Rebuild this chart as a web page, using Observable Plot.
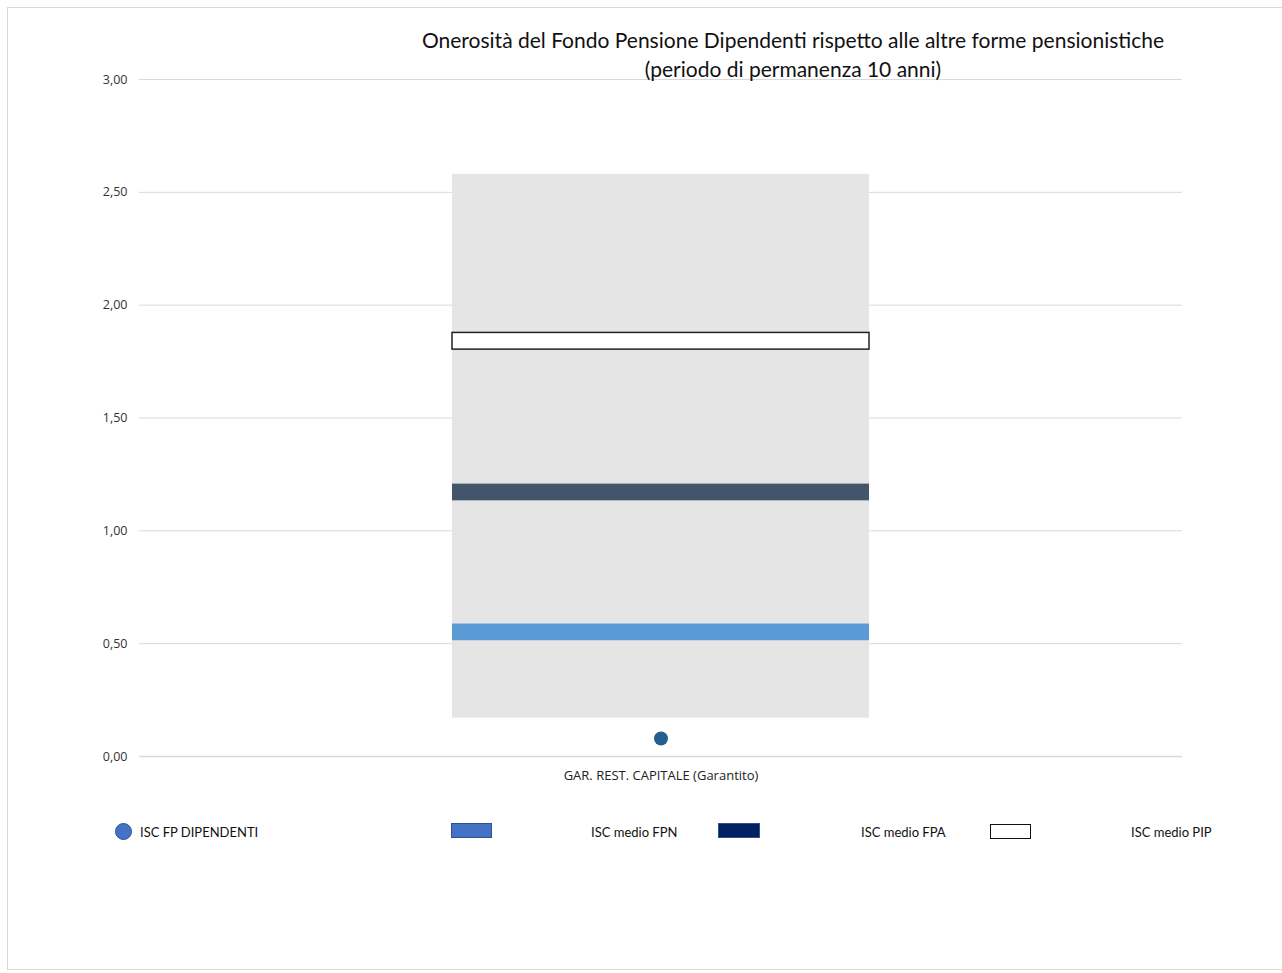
<!DOCTYPE html>
<html>
<head>
<meta charset="utf-8">
<script src="https://cdn.jsdelivr.net/npm/d3@7"></script>
<script src="https://cdn.jsdelivr.net/npm/@observablehq/plot@0.6"></script>
<style>
  html, body { margin: 0; padding: 0; background: #fff; }
  #page { position: relative; width: 1282px; height: 973px; overflow: hidden; }
  #frame { position: absolute; left: 7px; top: 7px; width: 1290px; height: 963px; border: 1px solid #d9d9d9; box-sizing: border-box; }
  #chart { position: absolute; left: 0; top: 0; }
  #title { position: absolute; left: 393px; width: 800px; top: 25px; text-align: center;
           font-family: Lato, "Open Sans", sans-serif; font-size: 21px; line-height: 29px; color: #111; }
  .leg { position: absolute; font-family: Lato, "Open Sans", sans-serif; font-size: 13px; color: #111; top: 824px; line-height: 17px; }
  .sw { position: absolute; box-sizing: border-box; }
</style>
</head>
<body>
<div id="page">
  <div id="frame"></div>
  <div id="chart"></div>
  <div id="title">Onerosità del Fondo Pensione Dipendenti rispetto alle altre forme pensionistiche<br>(periodo di permanenza 10 anni)</div>
  <div id="legend"></div>
</div>
<script>
// ---- data ----
const categories = ["GAR. REST. CAPITALE (Garantito)"];
const rangeMin = [0.17];
const rangeMax = [2.58];
const iscFPDipendenti = [0.08];
const iscMedioFPN = [0.55];
const iscMedioFPA = [1.17];
const iscMedioPIP = [1.84];
const yTicks = [0, 0.5, 1, 1.5, 2, 2.5, 3];
const legendLabels = ["ISC FP DIPENDENTI", "ISC medio FPN", "ISC medio FPA", "ISC medio PIP"];

const half = 0.037; // half thickness of average markers (data units)
const rows = categories.map((c, i) => ({
  cat: c, min: rangeMin[i], max: rangeMax[i], dip: iscFPDipendenti[i],
  fpn: iscMedioFPN[i], fpa: iscMedioFPA[i], pip: iscMedioPIP[i]
}));
const fmt = d => d3.format(".2f")(d).replace(".", ",");

const chart = Plot.plot({
  width: 1282,
  height: 800,
  marginLeft: 139,
  marginRight: 100,
  marginTop: 79,
  marginBottom: 44,
  style: { fontFamily: "Open Sans, sans-serif", fontSize: "12px", color: "#333" },
  x: { type: "band", domain: categories, paddingInner: 0.4286, paddingOuter: 0.4286, label: null },
  y: { domain: [0, 3], ticks: yTicks, label: null },
  marks: [
    Plot.gridY(yTicks, { stroke: "#d9d9d9", strokeOpacity: 1, strokeWidth: 1 }),
    Plot.axisY(yTicks, { tickFormat: fmt, tickSize: 0, tickPadding: 12, fontSize: 12.5, fill: "#333" }),
    Plot.ruleY([0], { stroke: "#d9d9d9", strokeWidth: 1.5 }),
    Plot.axisX({ tickSize: 0, tickPadding: 14, fontSize: 13, fill: "#222" }),
    Plot.barY(rows, { x: "cat", y1: "min", y2: "max", fill: "#e5e5e5" }),
    Plot.barY(rows, { x: "cat", y1: d => d.fpn - half, y2: d => d.fpn + half, fill: "#5b9bd5" }),
    Plot.barY(rows, { x: "cat", y1: d => d.fpa - half, y2: d => d.fpa + half, fill: "#44546a" }),
    Plot.barY(rows, { x: "cat", y1: d => d.pip - half, y2: d => d.pip + half, fill: "#fff", stroke: "#222", strokeWidth: 1.5 }),
    Plot.dot(rows, { x: "cat", y: "dip", r: 7, fill: "#255e91" })
  ]
});
document.getElementById("chart").appendChild(chart);

// ---- legend ----
const legend = document.getElementById("legend");
const items = [
  { sw: { left: 115, top: 823, w: 17, h: 17, bg: "#4472c4", border: "1px solid #2f528f", radius: "50%" }, tx: 140 },
  { sw: { left: 451, top: 823, w: 41, h: 15, bg: "#4472c4", border: "1px solid #2f528f" }, tx: 591 },
  { sw: { left: 718, top: 823, w: 42, h: 15, bg: "#002060", border: "1px solid #2f528f" }, tx: 861 },
  { sw: { left: 990, top: 824, w: 41, h: 15, bg: "#fff", border: "1.5px solid #111" }, tx: 1131 }
];
items.forEach((it, i) => {
  const s = document.createElement("div");
  s.className = "sw";
  Object.assign(s.style, { left: it.sw.left + "px", top: it.sw.top + "px", width: it.sw.w + "px", height: it.sw.h + "px",
    background: it.sw.bg, border: it.sw.border, borderRadius: it.sw.radius || "0" });
  legend.appendChild(s);
  const t = document.createElement("div");
  t.className = "leg";
  t.style.left = it.tx + "px";
  t.textContent = legendLabels[i];
  legend.appendChild(t);
});
</script>
</body>
</html>
